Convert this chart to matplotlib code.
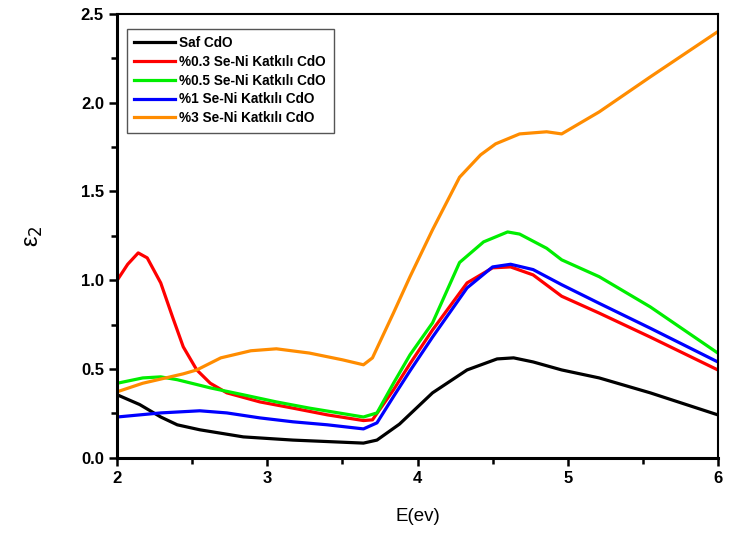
import matplotlib.pyplot as plt
from matplotlib.ticker import MultipleLocator

# Data (E in eV, epsilon_2)
e_saf = [2.0, 2.15, 2.29, 2.40, 2.55, 2.84, 3.17, 3.64, 3.73, 3.88, 4.10, 4.33, 4.53, 4.64, 4.77, 4.96, 5.21, 5.55, 6.0]
saf = [0.355, 0.30, 0.23, 0.186, 0.158, 0.118, 0.10, 0.083, 0.10, 0.19, 0.366, 0.495, 0.557, 0.563, 0.54, 0.495, 0.45, 0.366, 0.242]

e_03 = [2.0, 2.07, 2.14, 2.20, 2.29, 2.37, 2.44, 2.53, 2.62, 2.73, 2.95, 3.17, 3.40, 3.64, 3.70, 3.84, 3.95, 4.10, 4.33, 4.50, 4.62, 4.77, 4.96, 5.21, 5.55, 6.0]
se03 = [1.0, 1.09, 1.154, 1.126, 0.985, 0.79, 0.625, 0.495, 0.42, 0.366, 0.315, 0.28, 0.242, 0.21, 0.214, 0.383, 0.53, 0.72, 0.985, 1.07, 1.075, 1.03, 0.91, 0.815, 0.68, 0.495]

e_05 = [2.0, 2.17, 2.29, 2.40, 2.62, 2.84, 3.06, 3.28, 3.64, 3.73, 3.84, 3.95, 4.10, 4.28, 4.44, 4.60, 4.68, 4.86, 4.96, 5.21, 5.55, 6.0]
se05 = [0.42, 0.45, 0.456, 0.44, 0.394, 0.355, 0.315, 0.28, 0.23, 0.253, 0.42, 0.58, 0.76, 1.10, 1.216, 1.272, 1.26, 1.18, 1.115, 1.02, 0.85, 0.59]

e_1 = [2.0, 2.29, 2.55, 2.73, 2.95, 3.17, 3.40, 3.64, 3.73, 3.84, 3.95, 4.10, 4.33, 4.50, 4.62, 4.77, 4.96, 5.21, 5.55, 6.0]
se1 = [0.23, 0.253, 0.265, 0.253, 0.225, 0.203, 0.186, 0.163, 0.197, 0.345, 0.49, 0.68, 0.957, 1.075, 1.09, 1.06, 0.975, 0.87, 0.73, 0.54]

e_3 = [2.0, 2.17, 2.44, 2.53, 2.69, 2.89, 3.06, 3.28, 3.50, 3.64, 3.70, 3.84, 3.95, 4.10, 4.28, 4.42, 4.52, 4.68, 4.86, 4.96, 5.21, 5.55, 6.0]
se3 = [0.372, 0.42, 0.473, 0.495, 0.563, 0.603, 0.614, 0.59, 0.552, 0.524, 0.563, 0.816, 1.02, 1.284, 1.58, 1.706, 1.768, 1.824, 1.836, 1.824, 1.948, 2.145, 2.40]

labels = ['Saf CdO', '%0.3 Se-Ni Katkılı CdO', '%0.5 Se-Ni Katkılı CdO',
          '%1 Se-Ni Katkılı CdO', '%3 Se-Ni Katkılı CdO']
colors = ['#000000', '#ff0000', '#00ee00', '#0000ff', '#ff8c00']

plt.rcParams['font.family'] = ['Liberation Sans', 'DejaVu Sans']

fig = plt.figure(figsize=(7.37, 5.33), dpi=100)
ax = fig.add_axes([0.159, 0.141, 0.815, 0.833])

series = [(e_saf, saf), (e_03, se03), (e_05, se05), (e_1, se1), (e_3, se3)]
for (x, y), lab, c in zip(series, labels, colors):
    ax.plot(x, y, color=c, lw=2.3, label=lab)

ax.set_xlim(2, 6)
ax.set_ylim(0, 2.5)
ax.xaxis.set_major_locator(MultipleLocator(1))
ax.xaxis.set_minor_locator(MultipleLocator(0.5))
ax.yaxis.set_major_locator(MultipleLocator(0.5))
ax.yaxis.set_minor_locator(MultipleLocator(0.25))
ax.yaxis.set_major_formatter(plt.FormatStrFormatter('%.1f'))
ax.tick_params(which='major', direction='out', length=6, width=1.8, labelsize=12)
ax.tick_params(which='minor', direction='out', length=4, width=1.8)
ax.tick_params(top=False, right=False)
for lbl in ax.get_xticklabels() + ax.get_yticklabels():
    lbl.set_fontweight('bold')
for side in ['left', 'bottom']:
    ax.spines[side].set_linewidth(2.2)
for side in ['top', 'right']:
    ax.spines[side].set_linewidth(1.5)

ax.set_xlabel('E(ev)', fontsize=13.5, labelpad=16)
ax.set_ylabel('ε$_2$', fontsize=17, labelpad=26)

leg = ax.legend(loc='upper left', bbox_to_anchor=(0.005, 0.982), fancybox=False,
                edgecolor='#555555', framealpha=1, handlelength=3.0,
                labelspacing=0.35, borderpad=0.55, handletextpad=0.3,
                prop={'weight': 'bold', 'size': 9.8})
leg.get_frame().set_linewidth(1.0)

fig.savefig('out.png', dpi=100)
